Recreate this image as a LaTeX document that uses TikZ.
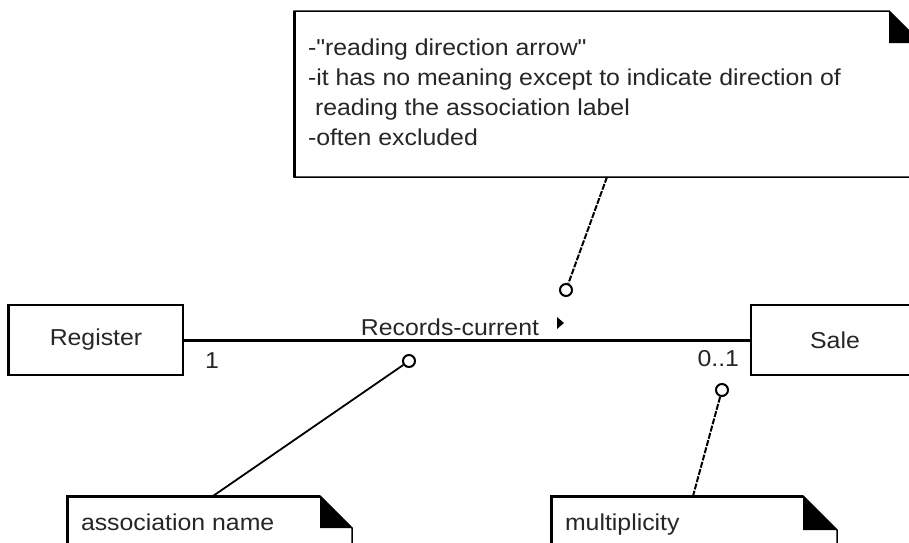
\documentclass[tikz,border=0pt]{standalone}
\usepackage{fontspec}
\setmainfont{Liberation Sans}[FakeStretch=1.08]
\newfontfamily\diafont{Liberation Sans}[FakeStretch=1.08]
\usetikzlibrary{calc}
\begin{document}
\begin{tikzpicture}[x=1pt,y=-1pt,
  txt/.style={inner sep=0pt, outer sep=0pt, font=\diafont\fontsize{23}{30}\selectfont, text=black!85},
  classbox/.style={draw, line width=1.5pt, inner sep=0pt, font=\diafont\fontsize{23}{30}\selectfont, text=black!85},
  assoc/.style={line width=3pt},
  noteline/.style={line width=1.5pt, line join=miter},
  thickedge/.style={line width=3pt},
  ring/.style={circle, draw, line width=2pt, fill=white, minimum size=12pt, inner sep=0pt},
  anchorline/.style={line width=2pt, dash pattern=on 6pt off 1.5pt},
  solidanchor/.style={line width=1.8pt}
]
\useasboundingbox (0,0) rectangle (909,542);
\clip (0,0) rectangle (909,542);
\fill[white] (0,0) rectangle (909,542);

% classes
\node[classbox, minimum width=174pt, minimum height=70pt] (reg) at (96,340) {Register};
\draw[thickedge] (reg.north west) -- (reg.south west);
\node[classbox, minimum width=168pt, minimum height=70pt] (sale) at (835,340) {Sale};

% association
\draw[assoc] (reg.east) -- (sale.west);
\node[txt, anchor=base] (rc) at (450,335) {Records-current};
\fill (557,317) -- (557,329) -- (564,323) -- cycle;
\node[txt, anchor=base west] (m1) at (205,368) {1};
\node[txt, anchor=base east] (m2) at (739,366) {0..1};

% top note
\draw[noteline] (294,177) -- (294,11) -- (889,11) -- (921,43) -- (921,177) -- cycle;
\fill (889,11) -- (889,43) -- (921,43) -- cycle;
\draw[thickedge] (294,11) -- (294,177);
\node[txt, anchor=base west] (tl1) at (308,55) {-"reading direction arrow"};
\node[txt, anchor=base west] (tl2) at (308,85) {-it has no meaning except to indicate direction of};
\node[txt, anchor=base west] (tl3) at (315,115) {reading the association label};
\node[txt, anchor=base west] (tl4) at (308,145) {-often excluded};

% bottom notes
\draw[noteline] (67,560) -- (67,496) -- (320,496) -- (352,528) -- (352,560);
\fill (320,496) -- (320,528) -- (352,528) -- cycle;
\draw[thickedge] (67,560) -- (67,496) -- (320,496);
\node[txt, anchor=base west] (an) at (81,530) {association name};

\draw[noteline] (551,560) -- (551,496) -- (803,496) -- (837,530) -- (837,560);
\fill (803,496) -- (803,530) -- (837,530) -- cycle;
\draw[thickedge] (551,560) -- (551,496) -- (803,496);
\node[txt, anchor=base west] (mn) at (565,530) {multiplicity};

% anchor points and rings
\coordinate (tnA) at (607,177);
\coordinate (anA) at (213,496);
\coordinate (mnA) at (693,496);
\node[ring] (c1) at (566,290) {};
\node[ring] (c2) at (409,361) {};
\node[ring] (c3) at (722,390) {};
\draw[anchorline] (tnA) -- (c1);
\draw[solidanchor] (c2) -- (anA);
\draw[anchorline] (c3) -- (mnA);
\end{tikzpicture}
\end{document}
